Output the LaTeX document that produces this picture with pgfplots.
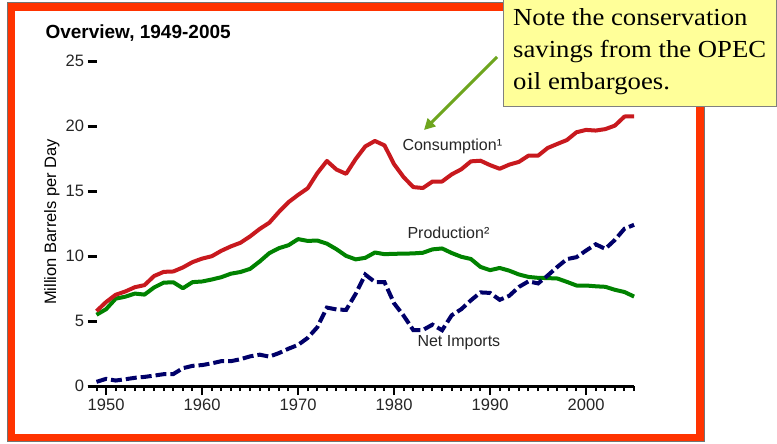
\documentclass[border=0pt]{standalone}
\usepackage{pgfplots}
\pgfplotsset{compat=1.18}
\usepackage{fontspec}
\setmainfont{Liberation Sans}
\newfontfamily\notefont[FakeStretch=1.09]{Liberation Serif}
\usetikzlibrary{arrows.meta}
\definecolor{framered}{RGB}{255,51,0}
\definecolor{consred}{RGB}{200,25,30}
\definecolor{prodgreen}{RGB}{0,130,0}
\definecolor{impnavy}{RGB}{0,0,105}
\definecolor{arrowgreen}{RGB}{110,165,30}
\definecolor{noteyellow}{RGB}{255,255,153}
\begin{document}
\begin{tikzpicture}[x=1pt,y=1pt]
\useasboundingbox (0,0) rectangle (777,-444);
% frame
\fill[framered] (7.5,-2.5) rectangle (704,-441);
\draw[black!55, line width=1pt] (7.5,-2.5) rectangle (704,-441);
\fill[white] (15,-11) rectangle (696,-434);
\node[anchor=base west, font=\bfseries\fontsize{19}{22}\selectfont] at (42,-39) {Overview, 1949-2005};
\node[rotate=90, anchor=base, font=\fontsize{16.5}{18}\selectfont] at (56,-222) {Million Barrels per Day};
\begin{axis}[
  at={(96.5pt,-386pt)}, anchor=south west,
  scale only axis, width=537.6pt, height=325pt,
  xmin=1949, xmax=2005, ymin=0, ymax=25,
  clip=false,
  axis x line=bottom, axis y line=left,
  y axis line style={draw=none},
  x axis line style={-, line width=3pt, shorten <=-9pt},
  xtick={1950,1960,...,2000},
  minor xtick={1949,...,2005},
  ytick={0,5,...,25},
  tick align=outside,
  major tick length=9pt, minor tick length=5pt,
  every major x tick/.append style={line width=2pt, black},
  every minor x tick/.append style={line width=2pt, black},
  every major y tick/.append style={line width=3pt, black},
  /pgf/number format/assume math mode=true,
  /pgf/number format/1000 sep={},
  ticklabel style={font=\fontsize{16.5}{18}\selectfont, text=black!85},
]
\addplot[prodgreen, line width=4pt, line join=round] coordinates {
(1949,5.48)(1950,5.91)(1951,6.72)(1952,6.87)(1953,7.11)(1954,7.03)(1955,7.58)(1956,7.95)(1957,7.98)(1958,7.52)(1959,7.99)
(1960,8.04)(1961,8.19)(1962,8.37)(1963,8.64)(1964,8.77)(1965,9.01)(1966,9.58)(1967,10.22)(1968,10.60)(1969,10.83)
(1970,11.30)(1971,11.16)(1972,11.19)(1973,10.95)(1974,10.52)(1975,10.01)(1976,9.74)(1977,9.86)(1978,10.27)(1979,10.14)
(1980,10.17)(1981,10.18)(1982,10.20)(1983,10.25)(1984,10.51)(1985,10.58)(1986,10.23)(1987,9.94)(1988,9.77)(1989,9.16)
(1990,8.91)(1991,9.08)(1992,8.87)(1993,8.58)(1994,8.39)(1995,8.32)(1996,8.30)(1997,8.27)(1998,8.01)(1999,7.73)
(2000,7.73)(2001,7.67)(2002,7.63)(2003,7.40)(2004,7.23)(2005,6.88)
};
\addplot[consred, line width=4pt, line join=round] coordinates {
(1949,5.76)(1950,6.46)(1951,7.02)(1952,7.27)(1953,7.60)(1954,7.76)(1955,8.46)(1956,8.78)(1957,8.81)(1958,9.12)(1959,9.53)
(1960,9.80)(1961,9.98)(1962,10.40)(1963,10.74)(1964,11.02)(1965,11.51)(1966,12.08)(1967,12.56)(1968,13.39)(1969,14.14)
(1970,14.70)(1971,15.21)(1972,16.37)(1973,17.31)(1974,16.65)(1975,16.32)(1976,17.46)(1977,18.43)(1978,18.85)(1979,18.51)
(1980,17.06)(1981,16.06)(1982,15.30)(1983,15.23)(1984,15.73)(1985,15.73)(1986,16.28)(1987,16.67)(1988,17.28)(1989,17.33)
(1990,16.99)(1991,16.71)(1992,17.03)(1993,17.24)(1994,17.72)(1995,17.72)(1996,18.31)(1997,18.62)(1998,18.92)(1999,19.52)
(2000,19.70)(2001,19.65)(2002,19.76)(2003,20.03)(2004,20.73)(2005,20.75)
};
\addplot[impnavy, line width=4pt, dash pattern=on 11pt off 4pt] coordinates {
(1949,0.32)(1950,0.55)(1951,0.42)(1952,0.52)(1953,0.63)(1954,0.70)(1955,0.80)(1956,0.91)(1957,0.92)(1958,1.37)(1959,1.55)
(1960,1.61)(1961,1.74)(1962,1.91)(1963,1.91)(1964,2.06)(1965,2.28)(1966,2.41)(1967,2.26)(1968,2.53)(1969,2.87)
(1970,3.16)(1971,3.70)(1972,4.52)(1973,6.03)(1974,5.89)(1975,5.85)(1976,7.09)(1977,8.57)(1978,8.00)(1979,7.99)
(1980,6.36)(1981,5.40)(1982,4.30)(1983,4.31)(1984,4.72)(1985,4.29)(1986,5.44)(1987,5.91)(1988,6.59)(1989,7.20)
(1990,7.16)(1991,6.63)(1992,6.94)(1993,7.62)(1994,8.05)(1995,7.89)(1996,8.50)(1997,9.16)(1998,9.76)(1999,9.91)
(2000,10.42)(2001,10.90)(2002,10.55)(2003,11.24)(2004,12.10)(2005,12.40)
};
\end{axis}
\node[anchor=west, font=\fontsize{16}{18}\selectfont, text=black!85] at (399,-146) {Consumption¹};
\node[anchor=west, font=\fontsize{16}{18}\selectfont, text=black!85] at (404,-233) {Production²};
\node[anchor=west, font=\fontsize{16}{18}\selectfont, text=black!85] at (414,-343) {Net Imports};
% arrow
\draw[arrowgreen, line width=3pt, -{Triangle[length=11pt,width=11pt]}] (497,-57) -- (424,-130);
% note box
\fill[noteyellow] (503,2) rectangle (776,-107);
\draw[black!50, line width=1pt] (503,2) -- (503,-107) -- (776,-107) -- (776,2);
\node[anchor=base west, font=\notefont\fontsize{24.5}{28}\selectfont, inner sep=0pt] at (513,-26) {Note the conservation};
\node[anchor=base west, font=\notefont\fontsize{24.5}{28}\selectfont, inner sep=0pt] at (513,-58) {savings from the OPEC};
\node[anchor=base west, font=\notefont\fontsize{24.5}{28}\selectfont, inner sep=0pt] at (513,-90) {oil embargoes.};
\end{tikzpicture}
\end{document}
